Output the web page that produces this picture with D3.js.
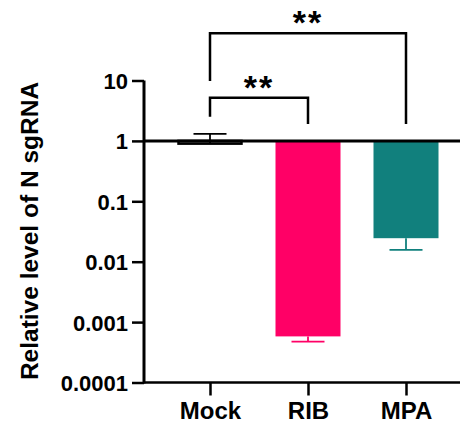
<!DOCTYPE html>
<html>
<head>
<meta charset="utf-8">
<script src="https://cdn.jsdelivr.net/npm/d3@7"></script>
<style>
  body { margin: 0; background: #fff; }
  svg text { font-family: Arial, "Liberation Sans", sans-serif; font-weight: bold; fill: #000; }
</style>
</head>
<body>
<svg width="460" height="428"></svg>
<script>
// data
var groups = ["Mock", "RIB", "MPA"];
var means = [0.9, 0.00058, 0.0245];
var errTips = [1.31, 0.000475, 0.0157];
var colors = ["#000000", "#ff0066", "#11807d"];
var yTicks = [10, 1, 0.1, 0.01, 0.001, 0.0001];
var yTickLabels = ["10", "1", "0.1", "0.01", "0.001", "0.0001"];
var comparisons = [
    {from: "Mock", to: "RIB", label: "**", level: 0},
    {from: "Mock", to: "MPA", label: "**", level: 1}
];

var width = 460;
var height = 428;

const svg = d3.select("svg");

var y = d3.scaleLog()
    .domain([0.0001, 10])
    .range([382.5, 80.5]);

var x = d3.scalePoint()
    .domain(groups)
    .range([161, 455])
    .padding(0.5);

var barWidth = 65;
var capWidth = 33;

// bars hang from 1
var bars = svg.append("g").attr("class", "bars");
groups.forEach(function(g, i) {
    var top = y(1), bottom = y(means[i]);
    if (g == "Mock") {
        bars.append("rect")
            .attr("x", x(g) - barWidth / 2 + 1)
            .attr("y", top)
            .attr("width", barWidth - 2)
            .attr("height", bottom - top)
            .attr("fill", "#fff")
            .attr("stroke", "#000")
            .attr("stroke-width", 2.5);
    } else {
        bars.append("rect")
            .attr("x", x(g) - barWidth / 2)
            .attr("y", top)
            .attr("width", barWidth)
            .attr("height", bottom - top)
            .attr("fill", colors[i]);
    }
    // error bar
    bars.append("line")
        .attr("x1", x(g)).attr("x2", x(g))
        .attr("y1", bottom).attr("y2", y(errTips[i]))
        .attr("stroke", colors[i]).attr("stroke-width", 1.8);
    bars.append("line")
        .attr("x1", x(g) - capWidth / 2).attr("x2", x(g) + capWidth / 2)
        .attr("y1", y(errTips[i])).attr("y2", y(errTips[i]))
        .attr("stroke", colors[i]).attr("stroke-width", 1.8);
});

// baseline at 1
svg.append("line")
    .attr("x1", 144).attr("x2", width)
    .attr("y1", y(1)).attr("y2", y(1))
    .attr("stroke", "#000").attr("stroke-width", 3);

// y axis
var yAxis = d3.axisLeft(y)
    .tickValues(yTicks)
    .tickFormat(function(d, i) { return yTickLabels[i]; })
    .tickSize(12)
    .tickPadding(4);

var gy = svg.append("g")
    .attr("transform", "translate(144,0)")
    .call(yAxis);
gy.select(".domain").attr("stroke-width", 3).attr("d", "M0," + y(10) + "V" + (y(0.0001) + 1));
gy.selectAll(".tick line").attr("stroke-width", 2.5);
gy.selectAll(".tick text")
    .style("font-size", "22px")
    .attr("dy", "0.36em");

// x axis
var xAxis = d3.axisBottom(x)
    .tickSize(13)
    .tickPadding(6);

var gx = svg.append("g")
    .attr("transform", "translate(0," + y(0.0001) + ")")
    .call(xAxis);
gx.select(".domain").attr("stroke-width", 2.5).attr("d", "M143,0H" + width);
gx.selectAll(".tick line").attr("stroke-width", 2.5);
gx.selectAll(".tick text")
    .style("font-size", "24px")
    .attr("dy", "0.72em");

// y title
svg.append("text")
    .attr("transform", "translate(38,231) rotate(-90)")
    .attr("text-anchor", "middle")
    .style("font-size", "24.5px")
    .text("Relative level of N sgRNA");

// significance brackets
var levelY = [97.7, 33.3];
var legEnds = {"Mock": [116.7, 81], "RIB": [124, 124], "MPA": [124, 124]};
comparisons.forEach(function(c) {
    var yy = levelY[c.level];
    var x1 = x(c.from), x2 = x(c.to);
    svg.append("path")
        .attr("d", "M" + x1 + "," + legEnds[c.from][c.level] + "V" + yy + "H" + x2 + "V" + legEnds[c.to][c.level])
        .attr("fill", "none")
        .attr("stroke", "#000")
        .attr("stroke-width", 2.5);
    svg.append("text")
        .attr("x", (x1 + x2) / 2)
        .attr("y", yy + 1)
        .attr("text-anchor", "middle")
        .style("font-size", "34px")
        .style("letter-spacing", "2px")
        .text(c.label);
});
</script>
</body>
</html>
